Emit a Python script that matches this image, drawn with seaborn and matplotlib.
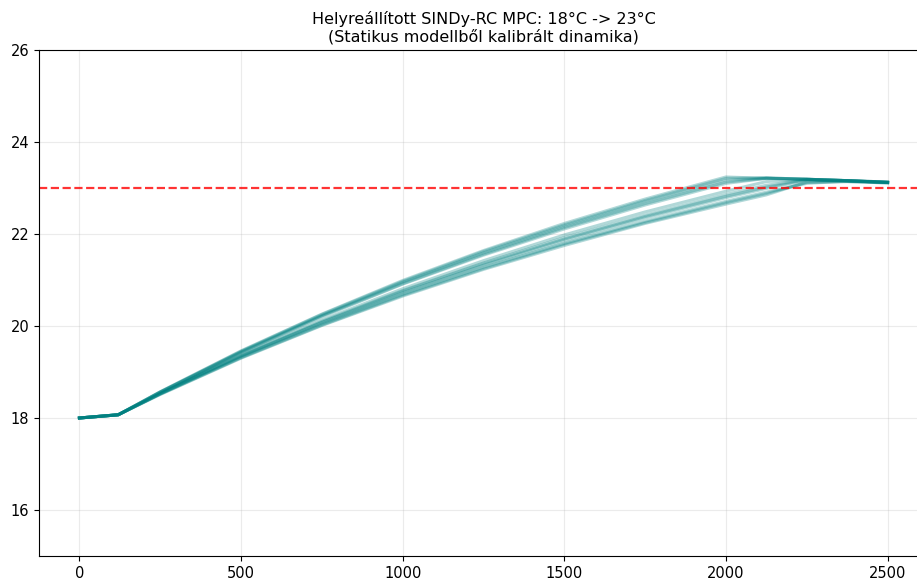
import numpy as np
import pandas as pd
import matplotlib
matplotlib.use("Agg")
import matplotlib.pyplot as plt
import seaborn as sns

# time grid [s]
time_s = [0, 120, 250, 500, 750, 1000, 1250, 1500, 1750, 2000, 2125, 2250, 2375, 2500]

# room temperature of each MPC run [°C]
run_a = [18.0, 18.07, 18.57, 19.46, 20.26, 20.99, 21.64, 22.23, 22.76, 23.24, 23.21, 23.19, 23.16, 23.13]
run_b = [18.0, 18.07, 18.57, 19.45, 20.25, 20.97, 21.62, 22.20, 22.73, 23.21, 23.22, 23.19, 23.16, 23.13]
run_c = [18.0, 18.07, 18.56, 19.44, 20.23, 20.95, 21.59, 22.17, 22.70, 23.17, 23.22, 23.19, 23.16, 23.13]
run_d = [18.0, 18.07, 18.56, 19.43, 20.22, 20.92, 21.56, 22.14, 22.66, 23.13, 23.21, 23.19, 23.16, 23.12]
run_e = [18.0, 18.07, 18.56, 19.42, 20.20, 20.91, 21.54, 22.11, 22.63, 23.10, 23.21, 23.19, 23.16, 23.12]
run_f = [18.0, 18.07, 18.54, 19.38, 20.13, 20.81, 21.42, 21.98, 22.48, 22.93, 23.14, 23.19, 23.16, 23.12]
run_g = [18.0, 18.07, 18.53, 19.36, 20.10, 20.77, 21.37, 21.92, 22.41, 22.86, 23.06, 23.18, 23.16, 23.12]
run_h = [18.0, 18.07, 18.53, 19.35, 20.08, 20.75, 21.35, 21.89, 22.38, 22.82, 23.02, 23.18, 23.16, 23.12]
run_i = [18.0, 18.07, 18.53, 19.34, 20.07, 20.73, 21.32, 21.86, 22.35, 22.79, 22.99, 23.17, 23.15, 23.12]
run_j = [18.0, 18.07, 18.52, 19.32, 20.04, 20.69, 21.28, 21.80, 22.28, 22.71, 22.91, 23.10, 23.15, 23.12]
run_k = [18.0, 18.07, 18.52, 19.31, 20.02, 20.67, 21.25, 21.78, 22.25, 22.68, 22.88, 23.12, 23.14, 23.11]
run_l = [18.0, 18.07, 18.51, 19.30, 20.01, 20.65, 21.23, 21.75, 22.23, 22.65, 22.85, 23.13, 23.14, 23.11]

target_temp = 23

runs = {"a": run_a, "b": run_b, "c": run_c, "d": run_d, "e": run_e, "f": run_f,
        "g": run_g, "h": run_h, "i": run_i, "j": run_j, "k": run_k, "l": run_l}

df = pd.concat(
    [pd.DataFrame({"t": time_s, "T": vals, "run": name}) for name, vals in runs.items()],
    ignore_index=True,
)

fig = plt.figure(figsize=(9.17, 5.8), dpi=100)
ax = fig.add_axes([39 / 917, 24 / 580, 889 / 917, 506 / 580])

sns.lineplot(data=df, x="t", y="T", units="run", estimator=None,
             color="teal", alpha=0.3, linewidth=2.2, ax=ax)
ax.axhline(target_temp, color="red", linestyle="--", linewidth=1.6, alpha=0.8)

ax.set_xlim(-125, 2625)
ax.set_ylim(15, 26)
ax.set_xticks([0, 500, 1000, 1500, 2000, 2500])
ax.set_yticks([16, 18, 20, 22, 24, 26])
ax.grid(True, alpha=0.25)
ax.set_xlabel("")
ax.set_ylabel("")
ax.tick_params(labelsize=10.5)
ax.set_title("Helyreállított SINDy-RC MPC: 18°C -> 23°C\n(Statikus modellből kalibrált dinamika)",
             fontsize=11.5)

fig.savefig("out.png", dpi=100)
